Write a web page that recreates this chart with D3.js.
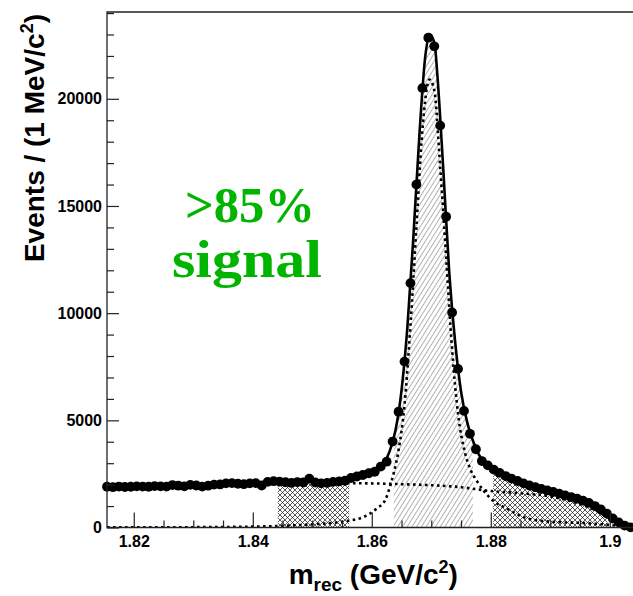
<!DOCTYPE html>
<html>
<head>
<meta charset="utf-8">
<script src="https://cdn.jsdelivr.net/npm/d3@7"></script>
<style>
  html, body { margin: 0; padding: 0; background: #ffffff; }
  svg { display: block; }
</style>
</head>
<body>
<div id="chart"></div>
<script>
// ---------------- data ----------------
// event counts per 1 MeV/c^2 bin, first bin centred at 1.8155 GeV/c^2
const binFirstCenter = 1.8155;
const binWidth = 0.001;
const counts = [
  1900, 1880, 1910, 1890, 1900, 1920, 1910, 1900, 1930, 1920,
  1910, 1980, 1950, 1920, 1990, 1960, 1910, 1950, 2000, 2010,
  2060, 2070, 2040, 2020, 2060, 2070, 1960, 2130, 2160, 2140,
  2110, 2080, 2120, 2100, 2280, 2100, 2060, 2080, 2130, 2150,
  2180, 2310, 2380, 2450, 2530, 2600, 2840, 3070, 4010, 5400,
  7740, 11400, 16000, 20500, 22850, 22450, 18750, 14500, 10030, 7400,
  5440, 4370, 3650, 3100, 2900, 2700, 2550, 2400, 2280, 2170,
  2060, 1960, 1880, 1800, 1730, 1660, 1580, 1500, 1420, 1350,
  1250, 1150, 1000, 840, 650, 420, 240, 90, 10
];

// total fit (solid line)
const fitMass  = [1.8155, 1.825, 1.835, 1.845, 1.852, 1.856, 1.858, 1.860, 1.861, 1.862,
                  1.863, 1.864, 1.865, 1.866, 1.867, 1.868, 1.869, 1.8698, 1.8706, 1.871,
                  1.872, 1.873, 1.874, 1.875, 1.876, 1.877, 1.878, 1.879, 1.880, 1.882,
                  1.884, 1.886, 1.888, 1.890, 1.892, 1.894, 1.896, 1.898, 1.900, 1.902,
                  1.9035, 1.9045];
const fitTotal = [1900, 1950, 2030, 2110, 2160, 2250, 2380, 2560, 2740, 3000,
                  3550, 4550, 6400, 9400, 13600, 18300, 22000, 23000, 22500, 21200,
                  16800, 12000, 8700, 6350, 4950, 4050, 3400, 3020, 2780, 2460,
                  2230, 2010, 1840, 1700, 1540, 1380, 1170, 900, 560, 200,
                  20, 0];

// background component (dotted)
const bkgMass = [1.8155, 1.830, 1.845, 1.855, 1.865, 1.875, 1.880, 1.885, 1.890, 1.894, 1.897, 1.900, 1.902, 1.9035, 1.9045];
const bkgVal  = [1880, 1960, 2050, 2070, 2020, 1880, 1700, 1600, 1450, 1180, 880, 430, 130, 10, 0];

// signal component (dotted)
const sigMass = [1.8155, 1.830, 1.840, 1.845, 1.850, 1.855, 1.8587, 1.8609, 1.8623, 1.8631,
                 1.8637, 1.8645, 1.8655, 1.8665, 1.8675, 1.8685, 1.8697, 1.8705, 1.8715, 1.8725,
                 1.8735, 1.8745, 1.8757, 1.8766, 1.8777, 1.8787, 1.8804, 1.8827, 1.8861, 1.890,
                 1.8962, 1.900, 1.902, 1.9045];
const sigVal  = [5, 15, 40, 80, 150, 270, 500, 900, 1300, 1950,
                 2550, 3600, 5700, 9400, 14000, 18500, 20900, 20400, 16800, 12600,
                 8300, 5300, 3450, 2700, 2150, 1750, 1250, 880, 430, 270,
                 200, 120, 60, 0];

// shaded mass windows
const sidebandLeft  = [1.8442, 1.8562];
const signalWindow  = [1.8637, 1.8770];
const sidebandRight = [1.8804, 1.8996];

// axis ticks
const xMajorTicks = [1.82, 1.84, 1.86, 1.88, 1.90];
const xMinorTicks = [1.825, 1.83, 1.835, 1.845, 1.85, 1.855, 1.865, 1.87, 1.875, 1.885, 1.89, 1.895];
const yMajorTicks = [0, 5000, 10000, 15000, 20000];
const yMinorTicks = [1000, 2000, 3000, 4000, 6000, 7000, 8000, 9000, 11000, 12000, 13000, 14000,
                     16000, 17000, 18000, 19000, 21000, 22000, 23000, 24000];

const yTitle = "Events / (1 MeV/c";
const xTitleMain = "m";
const xTitleSub = "rec";
const xTitleRest = " (GeV/c";
const annotation = [">85%", "signal"];

// ---------------- layout ----------------
const W = 633, H = 596;
const pLeft = 107, pTop = 12, pBottom = 527.5;
const x = d3.scaleLinear().domain([1.8155, 1.905]).range([pLeft, pLeft + 0.0895 * 5950]);
const y = d3.scaleLinear().domain([0, 24050]).range([pBottom, pTop]);

const svg = d3.select("#chart").append("svg")
  .attr("width", W).attr("height", H)
  .style("font-family", "'Liberation Sans', Arial, Helvetica, sans-serif");

const defs = svg.append("defs");
// diagonal hatch for signal window
const pDiag = defs.append("pattern").attr("id", "diag")
  .attr("patternUnits", "userSpaceOnUse").attr("width", 4).attr("height", 4)
  .attr("patternTransform", "rotate(32)");
pDiag.append("rect").attr("width", 4).attr("height", 4).attr("fill", "#ffffff");
pDiag.append("line").attr("x1", 0).attr("y1", 0).attr("x2", 0).attr("y2", 4)
  .attr("stroke", "#666").attr("stroke-width", 1);
// cross hatch for side bands
const pCross = defs.append("pattern").attr("id", "cross")
  .attr("patternUnits", "userSpaceOnUse").attr("width", 5).attr("height", 5);
pCross.append("rect").attr("width", 5).attr("height", 5).attr("fill", "#ffffff");
pCross.append("path").attr("d", "M0,0 L5,5 M5,0 L0,5")
  .attr("stroke", "#222").attr("stroke-width", 0.75);

function addClip(id, range) {
  defs.append("clipPath").attr("id", id).append("rect")
    .attr("x", x(range[0])).attr("y", pTop)
    .attr("width", x(range[1]) - x(range[0])).attr("height", pBottom - pTop);
}
addClip("clipL", sidebandLeft);
addClip("clipS", signalWindow);
addClip("clipR", sidebandRight);
defs.append("clipPath").attr("id", "clipFrame").append("rect")
  .attr("x", pLeft).attr("y", pTop).attr("width", W - pLeft).attr("height", pBottom - pTop);

const fitPts = fitMass.map((m, i) => [m, fitTotal[i]]);
const area = d3.area().x(d => x(d[0])).y0(y(0)).y1(d => y(d[1])).curve(d3.curveMonotoneX);
const line = d3.line().x(d => x(d[0])).y(d => y(d[1])).curve(d3.curveMonotoneX);

const plot = svg.append("g").attr("clip-path", "url(#clipFrame)");
plot.append("path").datum(fitPts).attr("d", area).attr("fill", "url(#cross)").attr("clip-path", "url(#clipL)");
plot.append("path").datum(fitPts).attr("d", area).attr("fill", "url(#diag)").attr("clip-path", "url(#clipS)");
plot.append("path").datum(fitPts).attr("d", area).attr("fill", "url(#cross)").attr("clip-path", "url(#clipR)");

// dotted components
plot.append("path").datum(bkgMass.map((m, i) => [m, bkgVal[i]])).attr("d", line)
  .attr("fill", "none").attr("stroke", "#000").attr("stroke-width", 2.6).attr("stroke-dasharray", "2.6,3.4");
plot.append("path").datum(sigMass.map((m, i) => [m, sigVal[i]])).attr("d", line)
  .attr("fill", "none").attr("stroke", "#000").attr("stroke-width", 2.6).attr("stroke-dasharray", "2.6,3.4");
// total fit
plot.append("path").datum(fitPts).attr("d", line)
  .attr("fill", "none").attr("stroke", "#000").attr("stroke-width", 2.6);

// data points
const pts = counts.map((c, i) => [binFirstCenter + i * binWidth, c]);
svg.append("g").selectAll("circle").data(pts).join("circle")
  .attr("cx", d => x(d[0])).attr("cy", d => y(d[1])).attr("r", 4.9).attr("fill", "#000");

// axes
const yAxis = d3.axisLeft(y).tickValues(yMajorTicks).tickSize(-12).tickPadding(5).tickFormat(d3.format("d"));
const yAxisMinor = d3.axisLeft(y).tickValues(yMinorTicks).tickSize(-7).tickFormat("");
const xAxis = d3.axisBottom(x).tickValues(xMajorTicks).tickSize(-15).tickPadding(8).tickFormat(d3.format("~g"));
const xAxisMinor = d3.axisBottom(x).tickValues(xMinorTicks).tickSize(-7).tickFormat("");

function styleAxis(g) {
  g.select(".domain").remove();
  g.selectAll(".tick line").attr("stroke", "#222").attr("stroke-width", 1.2);
  g.selectAll("text").attr("fill", "#000").attr("font-weight", "bold").attr("font-size", 16)
    .style("font-family", "'Liberation Sans', Arial, sans-serif");
}
svg.append("g").attr("transform", `translate(${pLeft},0)`).call(yAxis).call(styleAxis);
svg.append("g").attr("transform", `translate(${pLeft},0)`).call(yAxisMinor).call(styleAxis);
svg.append("g").attr("transform", `translate(0,${pBottom})`).call(xAxis).call(styleAxis);
svg.append("g").attr("transform", `translate(0,${pBottom})`).call(xAxisMinor).call(styleAxis);

// frame
svg.append("path")
  .attr("d", `M${W + 5},${pTop} L${pLeft},${pTop} L${pLeft},${pBottom} L${W + 5},${pBottom}`)
  .attr("fill", "none").attr("stroke", "#222").attr("stroke-width", 1.3);

// axis titles
const yt = svg.append("text")
  .attr("transform", "translate(44,14) rotate(-90)")
  .attr("text-anchor", "end")
  .attr("font-weight", "bold").attr("font-size", 28).attr("fill", "#000");
yt.append("tspan").text(yTitle);
yt.append("tspan").attr("font-size", 18).attr("dy", -11).text("2");
yt.append("tspan").attr("dy", 11).text(")");

const xt = svg.append("text")
  .attr("x", (pLeft + x.range()[1]) / 2).attr("y", 584)
  .attr("text-anchor", "middle")
  .attr("font-weight", "bold").attr("font-size", 28).attr("fill", "#000");
xt.append("tspan").text(xTitleMain);
xt.append("tspan").attr("font-size", 19).attr("dy", 7).text(xTitleSub);
xt.append("tspan").attr("dy", -7).text(xTitleRest);
xt.append("tspan").attr("font-size", 18).attr("dy", -11).text("2");
xt.append("tspan").attr("dy", 11).text(")");

// annotation
const green = "#00b400";
svg.append("text").attr("x", 250).attr("y", 222).attr("text-anchor", "middle")
  .attr("font-family", "'Liberation Serif', 'DejaVu Serif', serif").attr("font-weight", "bold")
  .attr("font-size", 50).attr("textLength", 130).attr("lengthAdjust", "spacingAndGlyphs")
  .attr("fill", green).text(annotation[0]);
svg.append("text").attr("x", 247).attr("y", 277).attr("text-anchor", "middle")
  .attr("font-family", "'Liberation Serif', 'DejaVu Serif', serif").attr("font-weight", "bold")
  .attr("font-size", 52).attr("textLength", 150).attr("lengthAdjust", "spacingAndGlyphs")
  .attr("fill", green).text(annotation[1]);
</script>
</body>
</html>
